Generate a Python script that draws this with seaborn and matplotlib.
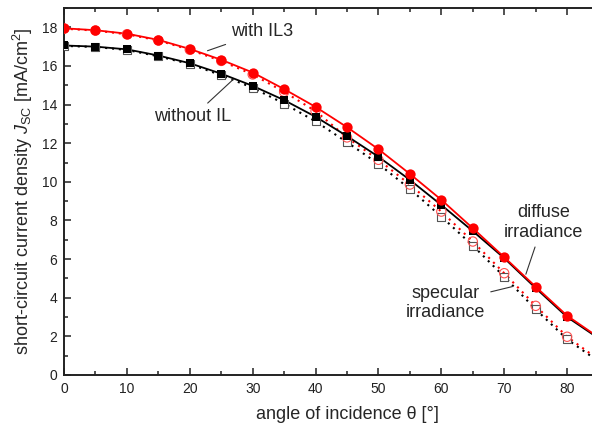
import matplotlib
matplotlib.use("Agg")
import matplotlib.pyplot as plt
import seaborn as sns
import pandas as pd
from matplotlib.ticker import MultipleLocator, FixedLocator

# angle of incidence (deg) where markers are drawn
angles = [0, 5, 10, 15, 20, 25, 30, 35, 40, 45, 50, 55, 60, 65, 70, 75, 80]
# J_sc values (mA/cm^2)
il3_diffuse = [17.95, 17.85, 17.67, 17.35, 16.88, 16.32, 15.66, 14.8, 13.88,
               12.83, 11.69, 10.41, 9.07, 7.6, 6.1, 4.57, 3.07]
noil_diffuse = [17.06, 17.0, 16.86, 16.54, 16.14, 15.6, 14.97, 14.23, 13.37,
                12.37, 11.3, 10.1, 8.8, 7.45, 6.05, 4.5, 3.0]
il3_specular = [17.93, 17.83, 17.64, 17.32, 16.84, 16.26, 15.56, 14.66, 13.66,
                12.3, 11.14, 9.86, 8.46, 6.91, 5.27, 3.58, 1.98]
noil_specular = [17.04, 16.98, 16.83, 16.5, 16.1, 15.52, 14.87, 14.05, 13.13,
                 12.05, 10.93, 9.63, 8.2, 6.7, 5.09, 3.4, 1.85]

# the simulated curves run a bit past the last marker
line_angles = angles + [85]
il3_diffuse_line = il3_diffuse + [1.95]
noil_diffuse_line = noil_diffuse + [1.9]
il3_specular_line = il3_specular + [0.8]
noil_specular_line = noil_specular + [0.7]

x_major = [0, 10, 20, 30, 40, 50, 60, 70, 80]

sns.set_style("ticks")
plt.rcParams["font.family"] = ["Liberation Sans", "DejaVu Sans"]
plt.rcParams["mathtext.fontset"] = "custom"
plt.rcParams["mathtext.rm"] = "Liberation Sans"
plt.rcParams["mathtext.it"] = "Liberation Sans:italic"

fig = plt.figure(figsize=(5.92, 4.25), dpi=100)
# axes run past the right edge of the picture, as in the original
ax = fig.add_axes([64 / 592, 50 / 425, 566 / 592, 367 / 425])

lines = pd.DataFrame({"angle": line_angles,
                      "il3_d": il3_diffuse_line, "noil_d": noil_diffuse_line,
                      "il3_s": il3_specular_line, "noil_s": noil_specular_line})
pts = pd.DataFrame({"angle": angles,
                    "il3_d": il3_diffuse, "noil_d": noil_diffuse,
                    "il3_s": il3_specular, "noil_s": noil_specular})

dot = (0, (1, 2.3))
sns.lineplot(data=lines, x="angle", y="noil_s", ax=ax, color="black",
             lw=1.5, linestyle=dot, zorder=2)
sns.lineplot(data=lines, x="angle", y="il3_s", ax=ax, color="red",
             lw=1.5, linestyle=dot, zorder=2)
sns.lineplot(data=lines, x="angle", y="noil_d", ax=ax, color="black",
             lw=1.3, zorder=3)
sns.lineplot(data=lines, x="angle", y="il3_d", ax=ax, color="red",
             lw=1.3, zorder=3)

sns.scatterplot(data=pts, x="angle", y="noil_s", ax=ax, marker="s", s=40,
                facecolor="white", edgecolor="#555555", linewidth=0.8, zorder=4)
sns.scatterplot(data=pts, x="angle", y="il3_s", ax=ax, marker="o", s=45,
                facecolor="none", edgecolor="#ff5050", linewidth=0.8, zorder=5)
sns.scatterplot(data=pts, x="angle", y="noil_d", ax=ax, marker="s", s=40,
                color="black", linewidth=0, zorder=6)
sns.scatterplot(data=pts, x="angle", y="il3_d", ax=ax, marker="o", s=55,
                color="red", linewidth=0, zorder=7)

ax.set_xlim(0, 90)
ax.set_ylim(0, 19)
ax.xaxis.set_major_locator(FixedLocator(x_major))
ax.xaxis.set_minor_locator(MultipleLocator(5))
ax.yaxis.set_major_locator(MultipleLocator(2))
ax.yaxis.set_minor_locator(MultipleLocator(1))
ax.tick_params(which="both", direction="in", top=True, right=True,
               width=1.1, color="#222222", labelsize=10, labelcolor="#222222")
ax.tick_params(which="major", length=5, pad=5)
ax.tick_params(which="minor", length=3)
for sp in ax.spines.values():
    sp.set_linewidth(1.4)
    sp.set_color("#222222")

ax.set_xlabel("angle of incidence θ [°]", fontsize=13, labelpad=7)
ax.set_ylabel(r"short-circuit current density $J_{\mathrm{SC}}$ [mA/cm$^2$]",
              fontsize=13, labelpad=5)

arrow = dict(arrowstyle="-", color="#333333", lw=0.8)
ax.annotate("with IL3", xy=(22.4, 16.74), xytext=(31.5, 17.77), fontsize=13,
            ha="center", va="center", arrowprops=arrow)
ax.annotate("without IL", xy=(27.2, 15.39), xytext=(20.5, 13.37), fontsize=13,
            ha="center", va="center", arrowprops=arrow)
ax.annotate("diffuse\nirradiance", xy=(73.3, 5.08), xytext=(76.2, 7.88),
            fontsize=13, ha="center", va="center", multialignment="center",
            arrowprops=arrow)
ax.annotate("specular\nirradiance", xy=(71.7, 4.61), xytext=(60.6, 3.73),
            fontsize=13, ha="center", va="center", multialignment="center",
            arrowprops=arrow)

fig.savefig("out.png", dpi=100)
